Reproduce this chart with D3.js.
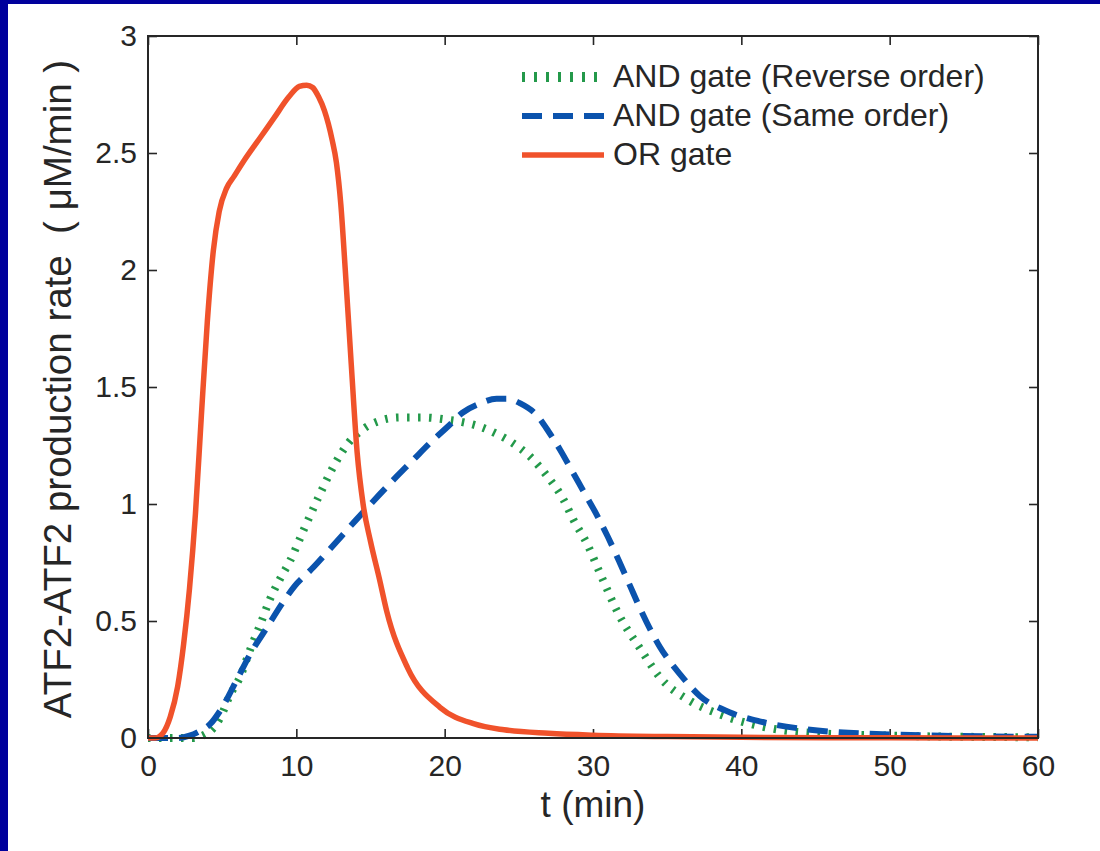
<!DOCTYPE html>
<html>
<head>
<meta charset="utf-8">
<script src="https://cdn.jsdelivr.net/npm/d3@7"></script>
<style>
  html, body { margin: 0; padding: 0; background: #fff; }
  svg { display: block; }
  text { font-family: 'Liberation Sans', Arial, sans-serif; fill: #262626; }
</style>
</head>
<body>
<script>
// OR gate
const tOr = [0, 0.5, 1, 1.5, 2, 2.4, 2.8, 3.2, 3.6, 4.0, 4.4, 4.8, 5.3, 5.8, 6.5, 7.5, 8.5, 9.5, 10.2, 10.7,
  11.1, 11.5, 11.9, 12.4, 12.7, 13.0, 13.3, 13.7, 14.1, 14.5, 15.0, 15.6, 16.1, 17.5, 19.7, 22, 24, 27, 30, 35, 40, 50, 60];
const vOr = [0, 0, 0.02, 0.09, 0.22, 0.40, 0.64, 0.96, 1.38, 1.78, 2.08, 2.25, 2.35, 2.40, 2.47, 2.56, 2.65, 2.74, 2.785, 2.79,
  2.78, 2.74, 2.68, 2.56, 2.46, 2.28, 2.0, 1.6, 1.22, 1.0, 0.84, 0.68, 0.54, 0.30, 0.13, 0.06, 0.035, 0.02, 0.012, 0.006, 0.003, 0.001, 0];

// AND gate (reverse order)
const tAndRev = [0, 3, 4.2, 4.9, 5.5, 6.2, 6.9, 7.6, 8.2, 8.9, 9.6, 10.5, 11.5, 12.5, 13.5, 14.5, 15.6, 17, 18.5,
  20.2, 21.2, 22.4, 23.5, 24.6, 25.8, 26.9, 28.0, 28.7, 29.6, 30.5, 31.8, 33.2, 34.5, 36.5, 38.6, 41.3, 44, 50, 60];
const vAndRev = [0, 0, 0.03, 0.09, 0.18, 0.26, 0.38, 0.49, 0.59, 0.68, 0.76, 0.89, 1.03, 1.16, 1.26, 1.32, 1.355, 1.37, 1.37,
  1.36, 1.35, 1.33, 1.30, 1.26, 1.20, 1.12, 1.02, 0.93, 0.83, 0.70, 0.52, 0.38, 0.26, 0.16, 0.10, 0.05, 0.025, 0.01, 0.003];

// AND gate (same order)
const tAndSame = [0, 2, 2.8, 3.5, 4.2, 4.9, 6.0, 6.9, 8.0, 9.1, 9.9, 11.0, 12.3, 14.0, 15.6, 16.8, 17.9, 19.0, 20.2, 21.2,
  22.4, 23.5, 24.2, 25.1, 26.2, 27.0, 27.8, 28.6, 29.4, 30.2, 31.0, 31.8, 32.5, 33.2, 34.5, 35.9, 37.2, 39.2, 41.3, 44, 50, 60];
const vAndSame = [0, 0, 0.01, 0.03, 0.06, 0.12, 0.25, 0.36, 0.47, 0.58, 0.65, 0.72, 0.81, 0.93, 1.04, 1.12, 1.19, 1.26, 1.33, 1.39,
  1.43, 1.45, 1.45, 1.43, 1.38, 1.31, 1.23, 1.14, 1.05, 0.96, 0.86, 0.75, 0.65, 0.55, 0.39, 0.27, 0.18, 0.11, 0.07, 0.04, 0.015, 0.005];

const xTicks = [0, 10, 20, 30, 40, 50, 60];
const yTicks = [0, 0.5, 1, 1.5, 2, 2.5, 3];
const legendLabels = ['AND gate (Reverse order)', 'AND gate (Same order)', 'OR gate'];

const width = 1100;
const height = 851;
const plotLeft = 148;
const plotRight = 1038;
const plotTop = 36;
const plotBottom = 738;

const green = '#23994a';
const blue = '#0b53ad';
const red = '#f0522b';
const ink = '#262626';

const svg = d3.select('body').append('svg')
  .attr('width', width)
  .attr('height', height);

// blue slide frame (left and top only)
svg.append('rect').attr('x', 0).attr('y', 0).attr('width', width).attr('height', 4).attr('fill', '#00009c');
svg.append('rect').attr('x', 0).attr('y', 0).attr('width', 8).attr('height', height).attr('fill', '#00009c');

const x = d3.scaleLinear().domain([0, 60]).range([plotLeft, plotRight]);
const y = d3.scaleLinear().domain([0, 3]).range([plotBottom, plotTop]);

const styleAxis = (g) => {
  g.select('.domain').remove();
  g.selectAll('.tick line').attr('stroke', ink).attr('stroke-width', 1.6);
  g.selectAll('.tick text').style('font-size', '30px').attr('fill', ink);
};

svg.append('g')
  .attr('transform', `translate(0,${plotBottom})`)
  .call(d3.axisBottom(x).tickValues(xTicks).tickSize(-9).tickPadding(17).tickFormat(d3.format('d')))
  .call(styleAxis);

svg.append('g')
  .attr('transform', `translate(${plotLeft},0)`)
  .call(d3.axisLeft(y).tickValues(yTicks).tickSize(-9).tickPadding(11).tickFormat((d) => String(d)))
  .call(styleAxis);

svg.append('g')
  .attr('transform', `translate(0,${plotTop})`)
  .call(d3.axisTop(x).tickValues(xTicks).tickSize(-9).tickFormat(''))
  .call(styleAxis);

svg.append('g')
  .attr('transform', `translate(${plotRight},0)`)
  .call(d3.axisRight(y).tickValues(yTicks).tickSize(-9).tickFormat(''))
  .call(styleAxis);

const line = d3.line()
  .x((d) => x(d[0]))
  .y((d) => y(d[1]))
  .curve(d3.curveMonotoneX);

const series = [
  {t: tAndRev, v: vAndRev, color: green, width: 8, dash: '2.5,8.5'},
  {t: tAndSame, v: vAndSame, color: blue, width: 6, dash: '20,11'},
  {t: tOr, v: vOr, color: red, width: 5.5, dash: null},
];

series.forEach((s) => {
  svg.append('path')
    .datum(d3.zip(s.t, s.v))
    .attr('fill', 'none')
    .attr('stroke', s.color)
    .attr('stroke-width', s.width)
    .attr('stroke-dasharray', s.dash)
    .attr('stroke-linejoin', 'round')
    .attr('d', line);
});

// box
svg.append('rect')
  .attr('x', plotLeft)
  .attr('y', plotTop)
  .attr('width', plotRight - plotLeft)
  .attr('height', plotBottom - plotTop)
  .attr('fill', 'none')
  .attr('stroke', ink)
  .attr('stroke-width', 2);

// legend
const legend = svg.append('g');
series.forEach((s, i) => {
  const ly = 77 + i * 39;
  legend.append('line')
    .attr('x1', 522)
    .attr('x2', 604)
    .attr('y1', ly)
    .attr('y2', ly)
    .attr('stroke', s.color)
    .attr('stroke-width', i === 0 ? 10 : s.width)
    .attr('stroke-dasharray', i === 0 ? '3,9' : s.dash);
  legend.append('text')
    .attr('x', 613)
    .attr('y', ly + 10)
    .style('font-size', '32px')
    .text(legendLabels[i]);
});

// axis labels
svg.append('text')
  .attr('x', (plotLeft + plotRight) / 2)
  .attr('y', 817)
  .attr('text-anchor', 'middle')
  .style('font-size', '37px')
  .text('t (min)');

svg.append('text')
  .attr('transform', `translate(71,${(plotTop + plotBottom) / 2 + 2}) rotate(-90)`)
  .attr('text-anchor', 'middle')
  .style('font-size', '38.5px')
  .style('white-space', 'pre')
  .text('ATF2-ATF2 production rate  ( μM/min )');
</script>
</body>
</html>
